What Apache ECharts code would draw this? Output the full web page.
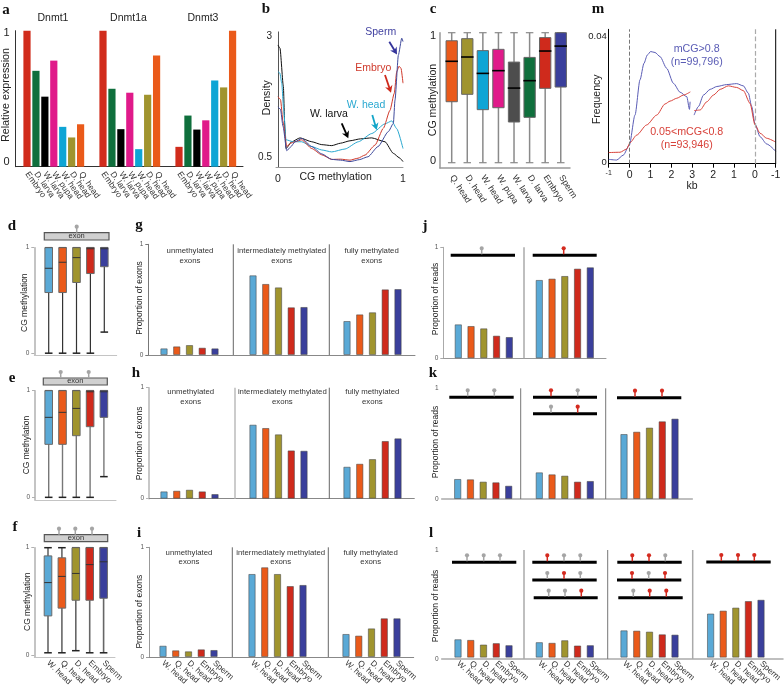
<!DOCTYPE html>
<html>
<head>
<meta charset="utf-8">
<style>html,body{margin:0;padding:0;background:#fff}#c{width:784px;height:688px}</style>
<script src="https://cdn.jsdelivr.net/npm/echarts@6/dist/echarts.min.js"></script>
</head>
<body>
<div id="c"></div>
<script>
// ---------- data ----------
const geneStages = ['Embryo','D. larva','W. larva','W. pupa','W. head','D. head','Q. head'];
const dnmt1  = [1,0.705,0.515,0.78,0.293,0.215,0.312];
const dnmt1a = [1,0.573,0.276,0.544,0.129,0.529,0.817];
const dnmt3  = [0.146,0.376,0.273,0.341,0.634,0.583,1];

const densitySperm = [[0,1.55],[0.02,1.5],[0.04,1.15],[0.07,0.645],[0.1,0.72],[0.136,0.83],[0.19,0.9],[0.27,0.73],[0.35,0.58],[0.43,0.465],[0.5,0.45],[0.576,0.42],[0.65,0.46],[0.72,0.52],[0.8,0.73],[0.883,1.04],[0.923,1.21],[0.936,1.69],[0.963,2.62],[0.99,2.97],[1,2.9]];
const densityEmbryo = [[0,1.76],[0.02,1.7],[0.04,1.25],[0.07,0.73],[0.1,0.8],[0.136,0.83],[0.19,0.87],[0.27,0.69],[0.35,0.56],[0.43,0.465],[0.5,0.47],[0.576,0.45],[0.64,0.49],[0.696,0.555],[0.776,0.76],[0.843,1.11],[0.896,1.48],[0.93,1.83],[0.95,2.28],[0.968,2.39],[0.984,2.35],[1,2.04]];
const densityWHead = [[0,2.28],[0.015,2.25],[0.03,2.04],[0.045,1.5],[0.064,0.87],[0.123,0.83],[0.19,0.83],[0.27,0.73],[0.35,0.66],[0.43,0.62],[0.536,0.68],[0.643,0.83],[0.75,1.0],[0.856,1.2],[0.91,1.26],[0.95,1.1],[1,0.69]];
const densityWLarva = [[0,2.83],[0.016,2.76],[0.043,1.97],[0.055,1.1],[0.064,0.69],[0.11,0.83],[0.176,0.91],[0.27,0.83],[0.35,0.77],[0.43,0.75],[0.5,0.8],[0.576,0.85],[0.66,0.89],[0.75,0.91],[0.856,0.83],[0.923,0.59],[0.97,0.5],[1,0.42]];

const boxStagesC = ['Q. head','D. head','W. head','W. pupa','W. larva','D. larva','Embryo','Sperm'];
const boxColorsC = ['#ea5a1a','#a0942e','#0ea5d5','#e01a8a','#4d4d4d','#0f6f3c','#cf2a1c','#3a3f9c'];
// low, q1, median, q3, high
const boxC = [[0,0.469,0.78,0.938,1],[0,0.526,0.813,0.954,1],[0,0.408,0.687,0.862,1],[0,0.423,0.708,0.872,1],[0,0.313,0.574,0.774,1],[0,0.349,0.631,0.81,1],[0,0.572,0.859,0.962,1],[0,0.582,0.897,1,1]];

const exonStages = ['W. head','Q. head','D. head','Embryo','Sperm'];
const exonColors = ['#5aa9d6','#ea5a1a','#a0942e','#cf2a1c','#3a3f9c'];
const boxD = [[0,0.575,0.805,1,1],[0,0.575,0.862,1,1],[0,0.67,0.906,1,1],[0,0.755,0.99,1,1],[0.2,0.82,0.99,1,1]];
const boxE = [[0,0.497,0.75,1,1],[0,0.497,0.797,1,1],[0,0.578,0.834,1,1],[0,0.6625,0.99,1,1],[0.194,0.75,0.99,1,1]];
const boxF = [[0,0.351,0.668,0.922,1],[0,0.425,0.727,0.904,1],[0.02,0.5,0.755,1,1],[0,0.5,0.839,1,1],[0,0.519,0.866,1,1]];

const g1 = [0.06,0.078,0.09,0.066,0.06];
const g2 = [0.72,0.642,0.611,0.431,0.434];
const g3 = [0.307,0.367,0.386,0.593,0.596];
const h1 = [0.066,0.072,0.081,0.066,0.042];
const h2 = [0.667,0.637,0.58,0.435,0.432];
const h3 = [0.288,0.315,0.357,0.52,0.544];
const i1 = [0.103,0.061,0.052,0.07,0.064];
const i2 = [0.757,0.818,0.757,0.647,0.657];
const i3 = [0.21,0.195,0.261,0.353,0.353];
const j1 = [0.306,0.291,0.27,0.204,0.192];
const j2 = [0.706,0.718,0.742,0.808,0.82];
const k1 = [0.181,0.178,0.157,0.151,0.12];
const k2 = [0.241,0.223,0.211,0.157,0.163];
const k3 = [0.587,0.608,0.645,0.702,0.726];
const l1 = [0.171,0.165,0.122,0.135,0.116];
const l2 = [0.144,0.138,0.162,0.113,0.116];
const l3 = [0.254,0.251,0.242,0.217,0.214];
const l4 = [0.41,0.437,0.465,0.526,0.538];

const kbTicks = ['-1','0','1','2','3','2','1','0','-1'];
const freqHigh = [[0,0.00137],[0.38,0.00115],[0.7,0.0027],[0.99,0.0059],[1.26,0.0153],[1.5,0.0264],[1.69,0.0316],[1.85,0.0342],[2.01,0.0353],[2.22,0.035],[2.46,0.0337],[2.78,0.03],[3.1,0.0253],[3.42,0.0225],[3.74,0.0211],[3.87,0.0171],[3.9,0.0195],[4,null],[4.09,0.0153],[4.3,0.018],[4.54,0.0216],[4.86,0.0234],[5.18,0.0243],[5.65,0.0249],[6.13,0.0252],[6.45,0.0245],[6.69,0.0222],[6.85,0.018],[7.01,0.0125],[7.25,0.0085],[7.57,0.0062],[8,0.0039]];
const freqMid = [[0,0.0035],[0.54,0.0036],[0.86,0.0046],[1.02,0.0066],[1.34,0.009],[1.82,0.0122],[2.3,0.0153],[2.7,0.0188],[2.94,0.0197],[3.26,0.0206],[3.58,0.0216],[3.91,0.0226],[4,null],[4.09,0.0167],[4.38,0.0169],[4.7,0.0195],[5.02,0.0216],[5.34,0.0234],[5.73,0.0245],[6.13,0.024],[6.45,0.023],[6.77,0.019],[7.01,0.0122],[7.25,0.0096],[7.57,0.008],[8,0.0068]];

// ---------- builders ----------
const SANS = '"Liberation Sans", Arial, sans-serif';
const SERIF = '"Liberation Serif", serif';
const grids = [], xAxes = [], yAxes = [], series = [], graphics = [];

function addGrid(box, x, y) {
  grids.push({left: box[0], top: box[2], width: box[1] - box[0], height: box[3] - box[2], containLabel: false});
  x.gridIndex = y.gridIndex = grids.length - 1;
  xAxes.push(x); yAxes.push(y);
  return grids.length - 1;
}
function text(str, x, y, size, fill, opts) {
  opts = opts || {};
  graphics.push({type: 'text', x, y, rotation: opts.rot || 0, z: 50, silent: true,
    style: {text: str, fill: fill || '#222', align: opts.align || 'center', verticalAlign: 'middle',
      font: (opts.bold ? 'bold ' : '') + size + 'px ' + (opts.family || SANS)}});
}
function ylabel(str, x, y, size, fill) { text(str, x, y, size, fill, {rot: Math.PI / 2}); }
function seg(x1, y1, x2, y2, color, w, dash) {
  graphics.push({type: 'line', z: 40, silent: true, shape: {x1, y1, x2, y2},
    style: {stroke: color, lineWidth: w, lineDash: dash || null}});
}
function lolli(x, yLine, color) {
  seg(x, yLine, x, yLine - 6, color, 1.5);
  graphics.push({type: 'circle', z: 41, silent: true, shape: {cx: x, cy: yLine - 6, r: 2.1}, style: {fill: color}});
}
function arrow(x1, y1, x2, y2, color) {
  const a = Math.atan2(y2 - y1, x2 - x1), L = 8, H = 0.5;
  seg(x1, y1, x2 - Math.cos(a) * 4, y2 - Math.sin(a) * 4, color, 1.8);
  graphics.push({type: 'polygon', z: 41, silent: true, shape: {points: [[x2, y2],
    [x2 - L * Math.cos(a - H), y2 - L * Math.sin(a - H)],
    [x2 - 5 * Math.cos(a), y2 - 5 * Math.sin(a)],
    [x2 - L * Math.cos(a + H), y2 - L * Math.sin(a + H)]]}, style: {fill: color}});
}
function frame(left, right, top, bottom, o) {
  o = o || {};
  addGrid([left, right, top, bottom], {
    type: 'category', data: [''],
    axisLine: {show: true, onZero: false, lineStyle: {color: o.baseColor || '#999', width: o.baseWidth || 1}},
    axisTick: {show: false}, axisLabel: {show: false}
  }, {
    type: 'value', min: o.min === undefined ? 0 : o.min, max: o.max === undefined ? 1 : o.max,
    splitLine: {show: false},
    axisLine: {show: true, lineStyle: {color: o.axisColor || '#999', width: o.axisWidth || 1}},
    axisTick: {show: o.ticks !== false, length: 3, lineStyle: {color: o.axisColor || '#999'}, customValues: o.tickValues || [0, 1]},
    axisLabel: {show: true, margin: o.margin || 5, fontSize: o.labelSize || 6.5, color: o.labelColor || '#555', fontFamily: SANS,
      customValues: o.labelValues || [0, 1], formatter: v => String(Math.round(v))}
  });
}
function innerAxes(names, labelled, size, rotate, margin, yMin, yMax) {
  return [{
    type: 'category', data: names,
    axisLine: {show: false}, axisTick: {show: false},
    axisLabel: labelled ? {show: true, interval: 0, rotate: rotate, margin: margin, fontSize: size, color: '#333', fontFamily: SANS} : {show: false}
  }, {type: 'value', min: yMin, max: yMax, show: false, splitLine: {show: false}}];
}
function barGroup(values, names, colors, first, step, top, bottom, o) {
  const ax = innerAxes(names, o.labelled, o.size || 8.3, o.rotate || -42, o.margin || 5, 0, 1);
  const idx = addGrid([first - step / 2, first - step / 2 + step * names.length, top, bottom], ax[0], ax[1]);
  series.push({
    type: 'bar', xAxisIndex: idx, yAxisIndex: idx, barWidth: o.barWidth || 7.3, silent: true, animation: false,
    data: values.map((v, i) => ({value: v, itemStyle: {color: colors[i],
      borderColor: o.border ? 'rgba(70,70,70,0.55)' : null, borderWidth: o.border ? 1 : 0}}))
  });
}
function barPanel(axisX, endX, top, bottom, groups, seps, o) {
  frame(axisX, endX, top, bottom, o);
  groups.forEach(g => barGroup(g[0], exonStages, exonColors, g[1], 12.75, top, bottom, {labelled: o.labelled, border: true, size: 8.3}));
  seps.forEach(s => seg(s[0], top, s[0], bottom, s[1] || '#666', s[2] || 1));
}
function boxPanel(rows, names, colors, first, step, top, bottom, st) {
  const ax = innerAxes(names, st.labelled, st.size || 8.3, st.rotate || -44, st.labelMargin || 6, st.min === undefined ? 0 : st.min, 1);
  const idx = addGrid([first - step / 2, first - step / 2 + step * names.length, top, bottom], ax[0], ax[1]);
  series.push({
    type: 'custom', xAxisIndex: idx, yAxisIndex: idx, silent: true, animation: false, clip: false,
    encode: {x: 0, y: [1, 2, 3, 4, 5]},
    data: rows.map((r, i) => [i].concat(r)),
    renderItem: function (p, api) {
      const i = api.value(0);
      const cx = api.coord([i, 0])[0];
      const Y = n => api.coord([i, api.value(n)])[1];
      const lo = Y(1), q1 = Y(2), md = Y(3), q3 = Y(4), hi = Y(5), hw = st.boxW / 2, cw = st.capW / 2;
      const line = (x1, y1, x2, y2, c, w) => ({type: 'line', shape: {x1, y1, x2, y2}, style: {stroke: c, lineWidth: w}});
      return {type: 'group', children: [
        line(cx, hi, cx, lo, st.whisker, st.whiskerW),
        line(cx - cw, lo, cx + cw, lo, st.cap, st.capH),
        line(cx - cw, hi, cx + cw, hi, st.cap, st.capH),
        {type: 'rect', shape: {x: cx - hw, y: q3, width: hw * 2, height: q1 - q3},
          style: {fill: colors[i], stroke: st.boxStroke, lineWidth: 1}},
        line(cx - hw - (st.medOver || 0), md, cx + hw + (st.medOver || 0), md, st.median, st.medianW)
      ]};
    }
  });
}
function exonBar(x1, x2, y1, y2, heads) {
  graphics.push({type: 'rect', z: 40, silent: true, shape: {x: x1, y: y1, width: x2 - x1, height: y2 - y1},
    style: {fill: '#d0d0d0', stroke: '#555', lineWidth: 1.2}});
  text('exon', (x1 + x2) / 2, (y1 + y2) / 2 - 0.3, 7.5, '#333');
  heads.forEach(x => lolli(x, y1, '#a5a5a5'));
}
function readBar(x1, x2, y, heads) {
  seg(x1, y, x2, y, '#000', 3);
  heads.forEach(h => lolli(h[0], y - 1, h[1] ? '#d42a1f' : '#a5a5a5'));
}

// ---------- panel a ----------
const aColors = ['#d12c1c','#0f6f3c','#000000','#e01a8a','#0ea5d5','#a0942e','#ea5a1a'];
frame(15.5, 243, 30.7, 166.7, {axisColor: '#333', baseColor: '#333', ticks: false, labelSize: 11, labelColor: '#222', margin: 6, labelValues: [0.035, 0.985]});
[[dnmt1, 27], [dnmt1a, 103], [dnmt3, 179]].forEach(g =>
  barGroup(g[0], geneStages, aColors, g[1], 8.93, 30.7, 166.7, {labelled: true, size: 8.5, rotate: -55, margin: 6, barWidth: 7.2}));
text('Dnmt1', 53, 18, 10.5); text('Dnmt1a', 128.5, 18, 10.5); text('Dnmt3', 203, 18, 10.5);
ylabel('Relative expression', 6, 95, 10.8);

// ---------- panel b ----------
addGrid([276, 403, 31.9, 167.4], {
  type: 'value', min: -0.016, max: 1, splitLine: {show: false},
  axisLine: {show: true, onZero: false, lineStyle: {color: '#999', width: 1}}, axisTick: {show: false},
  axisLabel: {show: true, margin: 6, fontSize: 10.5, color: '#222', fontFamily: SANS, customValues: [0, 1], formatter: v => String(v)}
}, {
  type: 'value', min: 0.3, max: 3.1, splitLine: {show: false},
  axisLine: {show: true, lineStyle: {color: '#555', width: 1}}, axisTick: {show: false},
  axisLabel: {show: true, margin: 4, fontSize: 10, color: '#222', fontFamily: SANS, customValues: [0.5, 3], formatter: v => String(v)}
});
const bIdx = grids.length - 1;
[[densityWLarva, '#111111'], [densityWHead, '#2aa8d0'], [densityEmbryo, '#d0392b'], [densitySperm, '#3f4a9c']].forEach(s =>
  series.push({type: 'line', xAxisIndex: bIdx, yAxisIndex: bIdx, data: s[0], smooth: 0.2, smoothMonotone: 'x', showSymbol: false, silent: true, animation: false,
    lineStyle: {color: s[1], width: 1}}));
ylabel('Density', 266.7, 97.7, 10.5);
text('CG methylation', 335.7, 176.7, 10.5);
text('Sperm', 380.7, 32.3, 10.5, '#3f3f9f');
text('Embryo', 373.3, 68.3, 10.5, '#cf3a2c');
text('W. head', 366, 105, 10.5, '#2aa8d0');
text('W. larva', 329, 114.3, 10.5, '#111');
arrow(389.3, 41.7, 397, 54.5, '#33339a');
arrow(385, 75, 391, 92.7, '#cf2a1c');
arrow(372.3, 115, 376.7, 130, '#12a5c8');
arrow(341.7, 123.3, 348.3, 138.3, '#000');

// ---------- panel c ----------
frame(440, 570, 32.7, 167.9, {min: -0.04, max: 1, axisColor: '#999', axisWidth: 1.5, baseColor: '#999', baseWidth: 1.5, ticks: false,
  labelSize: 11, labelColor: '#222', margin: 4, labelValues: [0.01, 0.975]});
boxPanel(boxC, boxStagesC, boxColorsC, 451.7, 15.58, 32.7, 167.9, {min: -0.04, labelled: true, size: 8.8, rotate: -57, labelMargin: 8,
  boxW: 11.3, capW: 7.5, whisker: '#8a8a8a', whiskerW: 1.5, cap: '#8a8a8a', capH: 1.2, boxStroke: '#666', median: '#000', medianW: 1.6, medOver: 0.6});
ylabel('CG methylation', 432.7, 100, 10.5);

// ---------- panels d, e, f ----------
const thinBox = {boxW: 7.6, capW: 7.6, whisker: '#333', whiskerW: 1.2, cap: '#222', capH: 1.5, boxStroke: '#6a6a6a', median: '#333', medianW: 1, size: 8.3, labelMargin: 7};
const ticksAxis = {axisColor: '#b0b0b0', axisWidth: 1.5, baseColor: '#c4c4c4', baseWidth: 1, labelSize: 6.5};
frame(34.3, 116.7, 247.7, 355.3, Object.assign({min: -0.02, tickValues: [0, 1], labelValues: [0, 1]}, ticksAxis));
boxPanel(boxD, exonStages, exonColors, 48.7, 13.9, 247.7, 355.3, Object.assign({min: -0.02}, thinBox));
ylabel('CG methylation', 25, 302.7, 8.5);
exonBar(44.3, 109, 232.7, 240, [76.7]);

frame(35, 116, 390.7, 500, Object.assign({min: -0.025}, ticksAxis));
boxPanel(boxE, exonStages, exonColors, 48.7, 13.8, 390.7, 500, Object.assign({min: -0.025}, thinBox, {whisker: '#777', whiskerW: 1.4}));
ylabel('CG methylation', 26.7, 445, 8.5);
exonBar(43.3, 107.3, 378, 385, [60.7, 88.7]);

frame(34.3, 115, 547.7, 657.3, Object.assign({min: -0.02}, ticksAxis));
boxPanel(boxF, exonStages, exonColors, 48, 13.9, 547.7, 657.3, Object.assign({min: -0.02}, thinBox, {labelled: true, whisker: '#666', whiskerW: 1.6}));
ylabel('CG methylation', 27.3, 601.7, 8.5);
exonBar(44.3, 107.7, 534.7, 541.7, [59, 75.3, 92]);

// ---------- panels g, h, i ----------
const exonTitles = [['unmethylated','exons'],['intermediately methylated','exons'],['fully methylated','exons']];
function exonLabels(xs, y1, y2) {
  xs.forEach((x, i) => { text(exonTitles[i][0], x, y1, 7.8, '#333'); text(exonTitles[i][1], x, y2, 7.8, '#333'); });
}
barPanel(148.3, 415, 244.3, 355, [[g1, 164], [g2, 253], [g3, 347]], [[233.3], [329.3]], {axisColor: '#777', baseColor: '#888'});
ylabel('Proportion of exons', 140, 298, 8.5);
exonLabels([190, 281.7, 371.7], 251.3, 260.7);

barPanel(149, 414.3, 387.7, 498.7, [[h1, 164], [h2, 253], [h3, 347]], [[235, '#bbb', 1.5], [329.3]], {axisColor: '#b5b5b5', axisWidth: 1.5, baseColor: '#888'});
ylabel('Proportion of exons', 140, 443.3, 8.5);
exonLabels([190.7, 282.3, 372.3], 392.3, 402);

barPanel(149, 413.7, 547.3, 657, [[i1, 163], [i2, 252], [i3, 346]], [[232.3], [328.3]], {axisColor: '#999', baseColor: '#888', labelled: true});
ylabel('Proportion of exons', 140, 611.7, 8.5);
exonLabels([189, 280.7, 370.7], 553, 562.3);

// ---------- panels j, k, l ----------
barPanel(443.3, 606, 247.3, 358.3, [[j1, 458.3], [j2, 539.3]], [[524, '#aaa', 1.5]], {axisColor: '#aaa', baseColor: '#999'});
ylabel('Proportion of reads', 436, 299, 8.5);
readBar(450.7, 515, 255.3, [[481.7, 0]]);
readBar(532.7, 596.7, 255.3, [[563.7, 1]]);

barPanel(441.7, 692.3, 388.3, 499, [[k1, 457.7], [k2, 539.3], [k3, 624]], [[520.7, '#777'], [605.7, '#777']], {axisColor: '#fff', baseColor: '#aaa', baseWidth: 1.5, tickValues: [], margin: 3});
ylabel('Proportion of reads', 436, 442, 8.5);
readBar(449.3, 513.7, 397.3, [[467.7, 0], [494.3, 0]]);
readBar(533, 597, 397.3, [[551, 1], [577.7, 0]]);
readBar(533, 597, 413.7, [[551, 0], [577.7, 1]]);
readBar(617, 681.3, 397.7, [[635, 1], [662, 1]]);

barPanel(441.7, 783, 550, 659, [[l1, 458], [l2, 539.3], [l3, 624], [l4, 710.7]], [[524, '#aaa', 1.5], [607.7, '#777'], [692.7, '#aaa', 1.5]], {axisColor: '#fff', baseColor: '#aaa', baseWidth: 1.5, tickValues: [], margin: 3, labelled: true});
ylabel('Proportion of reads', 436, 606, 8.5);
readBar(452, 516.3, 562.3, [[467, 0], [483.7, 0], [500, 0]]);
readBar(532.3, 596.7, 562.3, [[547.3, 1], [564, 0], [580.3, 0]]);
readBar(532.3, 596.7, 580, [[547.3, 0], [564, 1], [580.3, 0]]);
readBar(533.7, 597.7, 597.7, [[548.7, 0], [565, 0], [581.3, 1]]);
readBar(617.3, 681.7, 562.3, [[632.3, 1], [649, 1], [665.3, 0]]);
readBar(617, 681.3, 580, [[632, 1], [648.7, 0], [665, 1]]);
readBar(618.3, 682.7, 597.7, [[633.3, 0], [649.7, 1], [666.3, 1]]);
readBar(706.3, 770.7, 562, [[721.3, 1], [738, 1], [754.3, 1]]);

// ---------- panel m ----------
addGrid([608.7, 775.7, 29.3, 163.7], {
  type: 'value', min: 0, max: 8, interval: 1, splitLine: {show: false},
  axisLine: {show: true, onZero: false, lineStyle: {color: '#000', width: 1}},
  axisTick: {show: true, length: 4, lineStyle: {color: '#000'}},
  axisLabel: {show: true, margin: 6, fontSize: 10.5, color: '#222', fontFamily: SANS, showMinLabel: true, showMaxLabel: true,
    formatter: (v, i) => i === 0 ? '{s|' + kbTicks[v] + '}' : kbTicks[v], rich: {s: {fontSize: 7, fontFamily: SANS, color: '#222'}}}
}, {
  type: 'value', min: 0, max: 0.0423, splitLine: {show: false},
  axisLine: {show: true, lineStyle: {color: '#000', width: 1}}, axisTick: {show: false},
  axisLabel: {show: true, inside: false, margin: 2, fontSize: 9.5, color: '#222', fontFamily: SANS, customValues: [0.0004, 0.04], formatter: v => v > 0.01 ? '0.04' : '0'}
});
const mIdx = grids.length - 1;
series.push({type: 'line', xAxisIndex: mIdx, yAxisIndex: mIdx, data: freqHigh, smooth: 0.25, smoothMonotone: 'x', showSymbol: false, silent: true, animation: false, connectNulls: false,
  lineStyle: {color: '#5a5cb5', width: 1},
  markLine: {silent: true, symbol: 'none', animation: false, label: {show: false},
    lineStyle: {type: 'dashed', color: '#777', width: 1}, data: [{xAxis: 1}, {xAxis: 7, lineStyle: {color: '#aaa', type: 'dashed', width: 1.2}}]}});
series.push({type: 'line', xAxisIndex: mIdx, yAxisIndex: mIdx, data: freqMid, smooth: 0.25, smoothMonotone: 'x', showSymbol: false, silent: true, animation: false, connectNulls: false,
  lineStyle: {color: '#d8423a', width: 1}});
seg(775.7, 29.3, 775.7, 163.7, '#000', 1);
ylabel('Frequency', 597.3, 99.3, 10.5);
text('kb', 692, 186, 10.5);
text('mCG>0.8', 696.7, 49, 10.7, '#5a5cb5');
text('(n=99,796)', 696.7, 62.3, 10.7, '#5a5cb5');
text('0.05<mCG<0.8', 686.7, 131.7, 10.7, '#d8423a');
text('(n=93,946)', 686.7, 145, 10.7, '#d8423a');

// ---------- panel letters ----------
[['a',6,10],['b',266,9],['c',433,9],['m',598,9],['d',12,226],['e',12,378],['f',15,527],['g',139,225],['h',136,373],['i',139,533],['j',425,226],['k',433,373],['l',431,533]]
  .forEach(t => text(t[0], t[1], t[2], 15, '#111', {bold: true, family: SERIF}));

echarts.init(document.getElementById('c'), null, {renderer: 'canvas'}).setOption({
  animation: false, backgroundColor: '#ffffff', tooltip: {show: false},
  grid: grids, xAxis: xAxes, yAxis: yAxes, series: series,
  graphic: {elements: graphics}
});
</script>
</body>
</html>
